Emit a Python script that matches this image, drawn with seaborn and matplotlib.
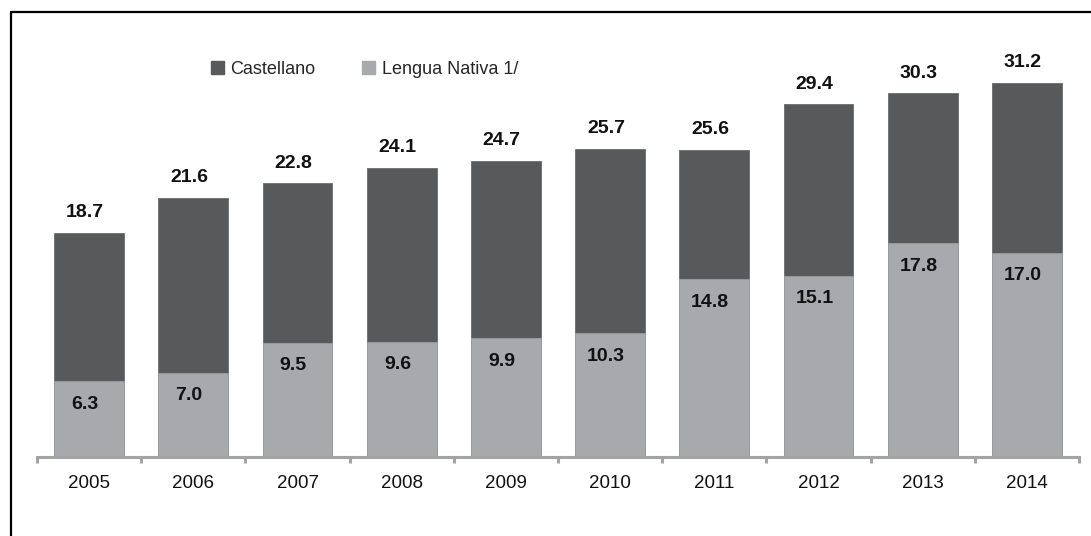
import matplotlib
matplotlib.use("Agg")
import matplotlib.pyplot as plt
import seaborn as sns
import pandas as pd
from matplotlib.patches import Patch
from matplotlib.lines import Line2D
import matplotlib.transforms as mtransforms

years = ["2005", "2006", "2007", "2008", "2009", "2010", "2011", "2012", "2013", "2014"]
castellano = [18.7, 21.6, 22.8, 24.1, 24.7, 25.7, 25.6, 29.4, 30.3, 31.2]
lengua_nativa = [6.3, 7.0, 9.5, 9.6, 9.9, 10.3, 14.8, 15.1, 17.8, 17.0]
series_names = ["Castellano", "Lengua Nativa 1/"]

DARK = "#58595b"
LIGHT = "#a7a9ac"
AXIS = "#a3a3a3"

sns.set_theme(style="white")
plt.rcParams["font.family"] = ["Liberation Sans Narrow", "Liberation Sans", "DejaVu Sans"]

W, H = 1091, 536
fig = plt.figure(figsize=(W / 100, H / 100), dpi=100)
ax = fig.add_axes([37 / W, (H - 457) / H, (1079 - 37) / W, (457 - 12) / H])

df = pd.DataFrame({"year": years, "Castellano": castellano, "Lengua": lengua_nativa})
sns.barplot(data=df, x="year", y="Castellano", color=DARK, saturation=1, width=0.67,
            edgecolor="#6a6b6d", linewidth=0.6, ax=ax)
sns.barplot(data=df, x="year", y="Lengua", color=LIGHT, saturation=1, width=0.67,
            edgecolor="#9a9c9f", linewidth=0.6, ax=ax)

ax.set_xlim(-0.5, len(years) - 0.5)
ax.set_ylim(0, (457 - 12) / 12)
ax.set_xlabel("")
ax.set_ylabel("")
ax.set_yticks([])
for s in ["top", "right", "left"]:
    ax.spines[s].set_visible(False)
ax.spines["bottom"].set_color(AXIS)
ax.spines["bottom"].set_linewidth(2.2)

ax.set_xticks(range(len(years)))
ax.set_xticklabels(years, fontsize=13.5, color="#111111")
ax.tick_params(axis="x", which="major", length=0, pad=13)
ax.set_xticks([i - 0.5 for i in range(len(years) + 1)], minor=True)
ax.tick_params(axis="x", which="minor", direction="out", length=4, width=2.2, color=AXIS, bottom=True)

offs_top = mtransforms.offset_copy(ax.transData, fig=fig, x=-3, y=20 * 0.72, units="points")
offs_in = mtransforms.offset_copy(ax.transData, fig=fig, x=-3, y=-23 * 0.72, units="points")
for i, (t, l) in enumerate(zip(castellano, lengua_nativa)):
    ax.text(i, t, f"{t:.1f}", transform=offs_top, ha="center", va="center",
            fontsize=14, fontweight="bold", color="#111111")
    ax.text(i, l, f"{l:.1f}", transform=offs_in, ha="center", va="center",
            fontsize=14, fontweight="bold", color="#111111")

handles = [Patch(facecolor=DARK, edgecolor=DARK), Patch(facecolor=LIGHT, edgecolor=LIGHT)]
fig.legend(handles, series_names, loc="center left", bbox_to_anchor=(211 / W, 1 - 69 / H),
           ncol=2, frameon=False, fontsize=13, handlelength=0.72, handleheight=0.72,
           handletextpad=0.35, columnspacing=2.6, borderpad=0, borderaxespad=0)

fig.add_artist(Line2D([10.5 / W, 10.5 / W], [0, 1 - 12 / H], color="black", linewidth=1.6,
                      transform=fig.transFigure))
fig.add_artist(Line2D([10.5 / W, 1], [1 - 12 / H, 1 - 12 / H], color="black", linewidth=1.6,
                      transform=fig.transFigure))

fig.savefig("out.png", dpi=100)
